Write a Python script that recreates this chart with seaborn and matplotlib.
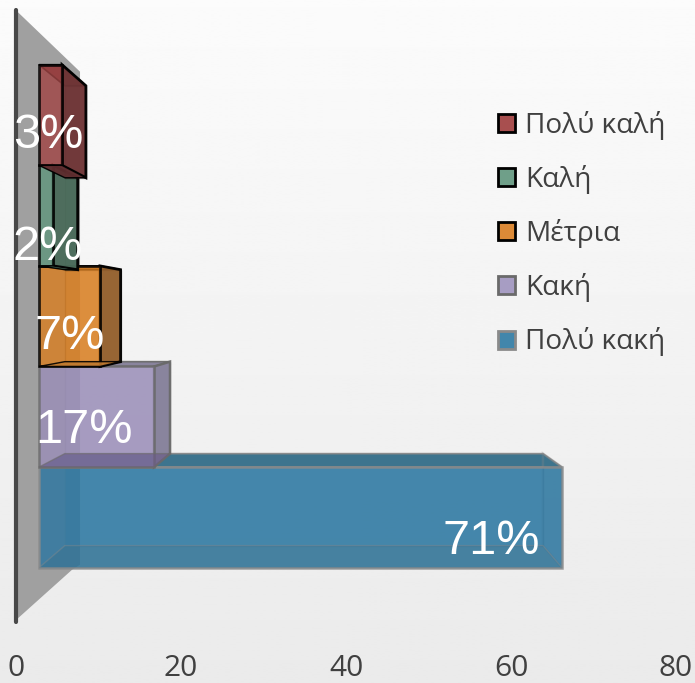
import matplotlib
matplotlib.use('Agg')
import matplotlib.pyplot as plt
from matplotlib.patches import Patch, Polygon
import numpy as np
import pandas as pd
import seaborn as sns

# data, top bar first
categories = ['Πολύ καλή', 'Καλή', 'Μέτρια', 'Κακή', 'Πολύ κακή']
percent_labels = ['3%', '2%', '7%', '17%', '71%']
bar_lengths = [2.79, 1.70, 7.39, 13.94, 63.39]  # read against the axis ticks
x_ticks = [0, 20, 40, 60, 80]

legend_colors = ['#a84f4f', '#6f9f89', '#dc8a37', '#a79dc3', '#4286ab']
front_colors = ['#a04444', '#5f957c', '#d97e20', '#9a8eb8', '#2975a0']
side_colors = ['#6f3536', '#4a6b5a', '#935f2d', '#85809a', '#37708a']
side_alpha = [0.95, 0.95, 0.95, 0.95, 0.3]
bottom_colors = ['#5e2c2e', '#4a6b5a', '#c07a30', '#6a5a88', '#37708a']
bottom_alpha = [0.95, 0.95, 0.9, 0.6, 0.4]
edge_colors = ['#000000', '#000000', '#000000', '#6a6a6a', '#8a8a8a']

PX_PER_UNIT = 8.25
ROW_PX = 100.6
BAR_START = 2.79
DEPTH = 0.0858
VANISH_X = 39.3
VANISH_Y = 1.94


def to_back(x, y):
    # front corner -> matching corner on the back face
    return x + DEPTH * (VANISH_X - x), y + DEPTH * (VANISH_Y - y)


def add_face(ax, corners, color, edge, z, alpha=0.95, lw=1.5):
    ax.add_patch(Polygon(corners, closed=True, facecolor=color, edgecolor=edge,
                         linewidth=lw, alpha=alpha, zorder=z))


fig = plt.figure(figsize=(6.95, 6.83), dpi=100)

# soft grey gradient behind everything
bg = fig.add_axes([0, 0, 1, 1], zorder=-1)
bg.imshow(np.linspace(0.985, 0.92, 256).reshape(-1, 1), cmap='gray', vmin=0, vmax=1,
          aspect='auto')
bg.axis('off')

ax = fig.add_axes([0, 33 / 683, 1, 650 / 683])
ax.patch.set_alpha(0)

df = pd.DataFrame({'category': categories, 'length': bar_lengths})
sns.barplot(data=df, x='length', y='category', hue='category', order=categories,
            hue_order=categories, palette=dict(zip(categories, front_colors)),
            dodge=False, width=1, saturation=1, legend=False, left=BAR_START, ax=ax)

ax.set_xlim(-16 / PX_PER_UNIT, 679 / PX_PER_UNIT)
ax.set_ylim(535 / ROW_PX, -115 / ROW_PX)

# grey side wall and the axis line in front of it
wall = [(0, -1.04), (7.76, -0.43), (7.76, 4.47), (6.8, 4.52), (0, 5.02)]
ax.add_patch(Polygon(wall, closed=True, facecolor='#a0a0a0', edgecolor='none', zorder=1))
ax.plot([0, 0], [-1.04, 5.04], color='#484848', lw=3, solid_capstyle='round', zorder=1.5)

# 3d box around each bar; lower bars go first so the upper ones sit on top
for i, (bar, length) in enumerate(zip(ax.patches, bar_lengths)):
    z = 2 + (len(categories) - i) * 2
    edge = edge_colors[i]
    lw = 2 if edge == '#000000' else 1.8

    x0, x1 = BAR_START, BAR_START + length
    y0, y1 = i - 0.5, i + 0.5
    a = to_back(x0, y0)
    b = to_back(x1, y0)
    c = to_back(x1, y1)
    d = to_back(x0, y1)

    add_face(ax, [a, b, c, d], legend_colors[i], edge, z, alpha=0.35, lw=1)
    add_face(ax, [(x0, y0), (x1, y0), b, a], side_colors[i], edge, z, lw=1.2)
    add_face(ax, [(x1, y0), (x1, y1), c, b], side_colors[i], edge, z, alpha=side_alpha[i], lw=lw)

    bar.set_zorder(z + 1)
    bar.set_alpha(0.8)
    bar.set_edgecolor(edge)
    bar.set_linewidth(lw)

    # bottom face sits over the front of the bar below it
    add_face(ax, [(x0, y1), (x1, y1), c, d], bottom_colors[i], edge, z + 1,
             alpha=bottom_alpha[i], lw=1)

# labels, offsets in px from the middle of the front face
label_dx = [-2, 2, 0, -13, -4]
label_dy = [21, 32, 20, 14, 24]
for i, text in enumerate(percent_labels):
    cy = i + label_dy[i] / ROW_PX
    if i == 4:
        ax.text(BAR_START + bar_lengths[i] - 22 / PX_PER_UNIT, cy, text, color='white', fontsize=35,
                family='Liberation Sans', ha='right', va='center', zorder=30)
    else:
        cx = BAR_START + bar_lengths[i] / 2 + label_dx[i] / PX_PER_UNIT
        ax.text(cx, cy, text, color='white', fontsize=35, family='Liberation Sans',
                ha='center', va='center', zorder=30)

ax.set_xticks(x_ticks)
ax.set_yticks([])
ax.set_xlabel('')
ax.set_ylabel('')
ax.tick_params(axis='x', length=0, pad=3, labelsize=21.5, labelcolor='#404040')
for lab in ax.get_xticklabels():
    lab.set_family('Open Sans')
for s in ax.spines.values():
    s.set_visible(False)

handles = [Patch(facecolor=c, edgecolor=e, linewidth=2, label=n)
           for c, e, n in zip(legend_colors, edge_colors, categories)]
ax.legend(handles=handles, loc='upper left', bbox_to_anchor=(498 / 695, 0.83), frameon=False,
          labelcolor='#404040', handlelength=0.6, handleheight=0.6,
          handletextpad=0.38, labelspacing=0.9, borderpad=0, borderaxespad=0,
          prop={'family': 'Open Sans', 'size': 20.2})

fig.savefig('out.png', dpi=100)
